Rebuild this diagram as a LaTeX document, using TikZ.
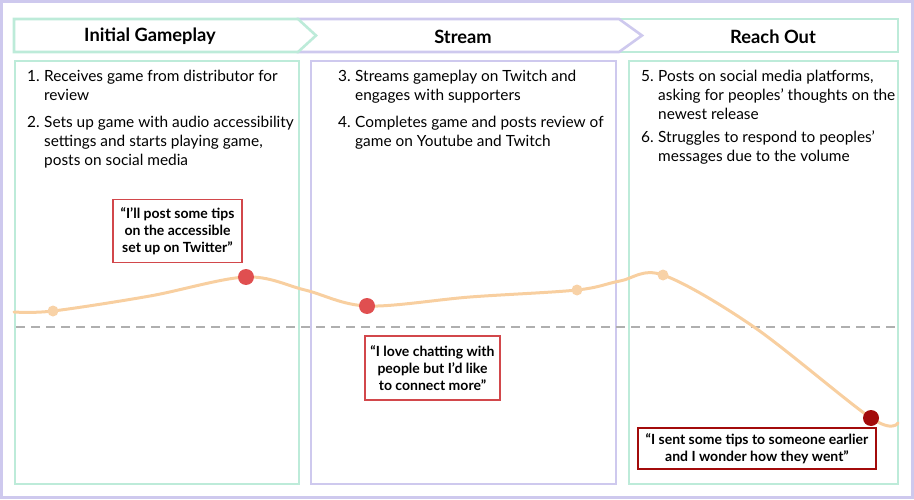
\documentclass[tikz,border=0pt]{standalone}
\usepackage{fontspec}
\setmainfont{Lato}
\begin{document}
\begin{tikzpicture}[x=1pt,y=-1pt,
  greenline/.style={draw=mint, line width=2.6pt},
  purpleline/.style={draw=lav, line width=2.6pt},
  header/.style={font=\fontsize{18.3}{20}\selectfont\bfseries, text=black},
  num/.style={anchor=north west, inner sep=0pt, font=\fontsize{15.4}{18.8}\selectfont, align=left},
  itemtext/.style={anchor=north west, inner sep=0pt, font=\fontsize{15.4}{18.8}\selectfont, align=left},
  quote/.style={draw=qred, line width=1.2pt, fill=white, font=\fontsize{14}{16.8}\selectfont\bfseries, align=center, inner sep=0pt},
  lightdot/.style={circle, fill=peach, inner sep=0pt, minimum size=11pt},
  reddot/.style={circle, fill=dotred, inner sep=0pt, minimum size=16pt},
  darkdot/.style={circle, fill=darkred, inner sep=0pt, minimum size=16pt}]
\definecolor{mint}{HTML}{BDEBD9}
\definecolor{lav}{HTML}{CEC9EE}
\definecolor{qred}{HTML}{D2474B}
\definecolor{dotred}{HTML}{E04F50}
\definecolor{darkred}{HTML}{A30B0B}
\definecolor{peach}{HTML}{F8D2A7}
\definecolor{curve}{HTML}{F8CFA0}
\definecolor{dashgray}{HTML}{AFAFAF}
\useasboundingbox (0,0) rectangle (914,500);
% outer frame
\draw[draw=lav, line width=2.6pt] (1.5,1.5) rectangle (912.5,497.5);
% headers
\draw[greenline, fill=white] (619,19) rectangle (898,52);
\draw[purpleline, fill=white, line join=miter] (298,19) -- (619,19) -- (642,35.5) -- (619,52) -- (298,52) -- cycle;
\draw[greenline, fill=white, line join=miter] (14,19) -- (298,19) -- (316,35.5) -- (298,52) -- (14,52) -- cycle;
\node[header] (h1) at (150,36.5) {Initial Gameplay};
\node[header] (h2) at (463,36.5) {Stream};
\node[header] (h3) at (773,36.5) {Reach Out};
% content boxes
\draw[greenline] (15,61) rectangle (299,484);
\draw[purpleline] (311,61) rectangle (616,484);
\draw[greenline] (629,61) rectangle (898,484);
% dashed baseline
\draw[dashgray, line width=1.8pt, dash pattern=on 9pt off 6pt] (16,327) -- (898,327);
% items
\node[num] (n1) at (27,70) {1.};
\node[itemtext] (t1) at (44,70) {Receives game from distributor for\\review};
\node[num] (n2) at (27,116) {2.};
\node[itemtext] (t2) at (44,116) {Sets up game with audio accessibility\\settings and starts playing game,\\posts on social media};
\node[num] (n3) at (338,70) {3.};
\node[itemtext] (t3) at (355,70) {Streams gameplay on Twitch and\\engages with supporters};
\node[num] (n4) at (338,116) {4.};
\node[itemtext] (t4) at (355,116) {Completes game and posts review of\\game on Youtube and Twitch};
\node[num] (n5) at (641,70) {5.};
\node[itemtext] (t5) at (658,70) {Posts on social media platforms,\\asking for peoples' thoughts on the\\newest release};
\node[num] (n6) at (641,131) {6.};
\node[itemtext] (t6) at (658,131) {Struggles to respond to peoples'\\messages due to the volume};
% journey curve
\draw[curve, line width=3pt, line cap=round] plot[smooth, tension=0.55] coordinates {(14,312) (53,311) (150,296) (246,277) (305,290) (367,306) (470,297) (577,290) (620,281) (663,275) (754,327) (871,418) (898,423)};
\node[lightdot] (d1) at (53,311) {};
\node[reddot] (d2) at (246,277) {};
\node[reddot] (d3) at (367,306) {};
\node[lightdot] (d4) at (577,290) {};
\node[lightdot] (d5) at (663,275) {};
\node[darkdot] (d6) at (871,418) {};
% quotes
\node[quote, minimum width=129pt, minimum height=63pt] (q1) at (177.5,231) {“I’ll post some tips\\on the accessible\\set up on Twitter”};
\node[quote, minimum width=135pt, minimum height=64pt] (q2) at (432.5,368) {“I love chatting with\\people but I’d like\\to connect more”};
\node[quote, draw=darkred, minimum width=238pt, minimum height=41pt] (q3) at (757,448.5) {“I sent some tips to someone earlier\\and I wonder how they went”};
\end{tikzpicture}
\end{document}
